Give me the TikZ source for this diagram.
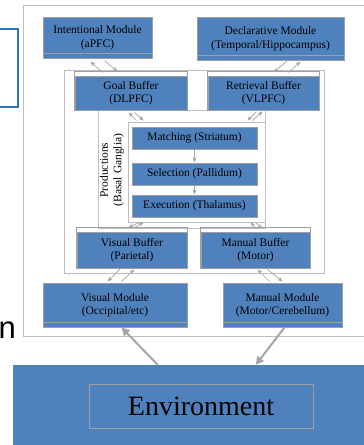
\documentclass[tikz,border=0pt]{standalone}
\usepackage{fontspec}
\setmainfont{Liberation Serif}
\newfontfamily\slidefont{Liberation Sans}
\usetikzlibrary{arrows.meta}
\definecolor{boxblue}{RGB}{79,129,189}
\definecolor{boxgray}{RGB}{160,160,160}
\definecolor{framegray}{RGB}{190,190,190}
\definecolor{arrowgray}{RGB}{165,165,165}
\definecolor{slideblue}{RGB}{46,117,182}

\begin{document}
\begin{tikzpicture}[x=1pt,y=-1pt,>={Stealth[length=5pt,width=4pt]},
  box/.style={draw=boxgray,line width=1pt,fill=boxblue,inner sep=0pt,align=center,font=\fontsize{11.5}{13.5}\selectfont},
  frame/.style={draw=framegray,line width=0.8pt,inner sep=0pt},
  link/.style={draw=arrowgray,line width=0.7pt,->},
  feed/.style={draw=arrowgray,line width=2pt,-{Triangle[length=8pt,width=8pt]}}]
\useasboundingbox (0,0) rectangle (364,445);
\clip (0,0) rectangle (364,445);
% pieces of the slide around the diagram
\draw[slideblue,line width=1.5pt] (-20,29) rectangle (18,107);
\node[anchor=base west,inner sep=0pt,font=\slidefont\fontsize{31}{31}\selectfont] (tail) at (-1.5,338) {n};
% frames
\node[frame,minimum width=347,minimum height=331] (outer) at (196.5,170.5) {};
\node[frame,minimum width=260,minimum height=203] (inner) at (194,171.5) {};
\node[frame,minimum width=167,minimum height=118] (prod) at (181.5,169) {};
\node[frame,fill=white,minimum width=137,minimum height=100] (stages) at (196.5,172) {};
\node[rotate=90,align=center,inner sep=0pt,font=\fontsize{11.5}{13.5}\selectfont] (prodlabel) at (112,170) {Productions\\(Basal Ganglia)};
% modules and buffers
\node[box,minimum width=109,minimum height=41] (intent) at (97.5,37.5) {Intentional Module\\(aPFC)};
\node[box,minimum width=147,minimum height=43] (decl) at (270.5,38.5) {Declarative Module\\(Temporal/Hippocampus)};
\node[box,minimum width=112,minimum height=34] (goal) at (131,93) {Goal Buffer\\(DLPFC)};
\node[box,minimum width=111,minimum height=34] (retr) at (263.5,93) {Retrieval Buffer\\(VLPFC)};
\node[box,minimum width=125,minimum height=22] (match) at (194.5,138) {Matching (Striatum)};
\node[box,minimum width=125,minimum height=22] (select) at (194.5,174) {Selection (Pallidum)};
\node[box,minimum width=125,minimum height=22] (exec) at (194.5,206) {Execution (Thalamus)};
\node[box,minimum width=110,minimum height=36] (visbuf) at (132,250) {Visual Buffer\\(Parietal)};
\node[box,minimum width=109,minimum height=36] (manbuf) at (255.5,250) {Manual Buffer\\(Motor)};
\node[box,minimum width=144,minimum height=44] (vismod) at (115,305) {Visual Module\\(Occipital/etc)};
\node[box,minimum width=119,minimum height=44] (manmod) at (282.5,305) {Manual Module\\(Motor/Cerebellum)};
\foreach \n in {goal,retr,visbuf,manbuf}
  \draw[boxgray,line width=0.8pt] ([yshift=4pt]\n.north west) rectangle (\n.south east);
\foreach \n in {intent,decl,vismod,manmod}
  \draw[boxgray,line width=0.8pt] ([yshift=5pt]\n.south west) -- ([yshift=5pt]\n.south east);
% environment
\node[fill=boxblue,inner sep=0pt,minimum width=367,minimum height=95] (env) at (196.5,412.5) {};
\node[draw=boxgray,line width=0.8pt,inner sep=0pt,minimum width=224,minimum height=44,font=\fontsize{28}{30}\selectfont] (envlabel) at (201,406) {Environment};
% connectors
\draw[link] ([xshift=28pt,yshift=3pt]goal.north west) -- ([xshift=48pt,yshift=-3pt]intent.south west);
\draw[link] ([xshift=62pt,yshift=-2pt]intent.south west) -- ([xshift=43pt,yshift=4pt]goal.north west);
\draw[link] ([xshift=91pt]decl.south west) -- ([xshift=66pt,yshift=3pt]retr.north west);
\draw[link] ([xshift=81pt,yshift=3pt]retr.north west) -- ([xshift=104pt,yshift=-1pt]decl.south west);
\draw[link] ([xshift=9pt,yshift=1pt]stages.north west) -- ([xshift=54pt,yshift=-2pt]goal.south west);
\draw[link] ([xshift=60pt,yshift=-2pt]goal.south west) -- ([xshift=16pt,yshift=1pt]stages.north west);
\draw[link] ([xshift=49pt,yshift=-1pt]retr.south west) -- ([xshift=-18pt,yshift=1pt]stages.north east);
\draw[link] ([xshift=-13pt,yshift=1pt]stages.north east) -- ([xshift=55pt,yshift=-1pt]retr.south west);
\draw[link] (match) -- (select);
\draw[link] (select) -- (exec);
\draw[link] ([xshift=12pt]stages.south west) -- ([xshift=52pt,yshift=4pt]visbuf.north west);
\draw[link] ([xshift=58pt,yshift=4pt]visbuf.north west) -- ([xshift=16pt]stages.south west);
\draw[link] ([xshift=55pt,yshift=4pt]manbuf.north west) -- ([xshift=-15pt]stages.south east);
\draw[link] ([xshift=-10pt]stages.south east) -- ([xshift=62pt,yshift=3pt]manbuf.north west);
\draw[link] ([xshift=44pt]visbuf.south west) -- ([xshift=65pt,yshift=1pt]vismod.north west);
\draw[link] ([xshift=79pt,yshift=1pt]vismod.north west) -- ([xshift=58pt,yshift=-1pt]visbuf.south west);
\draw[link] ([xshift=47pt,yshift=1pt]manmod.north west) -- ([xshift=57pt,yshift=-1pt]manbuf.south west);
\draw[link] ([xshift=67pt,yshift=-1pt]manbuf.south west) -- ([xshift=60pt,yshift=1pt]manmod.north west);
\draw[feed] ([xshift=145pt]env.north west) -- ([xshift=79pt]vismod.south west);
\draw[feed] ([xshift=62pt]manmod.south west) -- ([xshift=243pt]env.north west);
\end{tikzpicture}
\end{document}
